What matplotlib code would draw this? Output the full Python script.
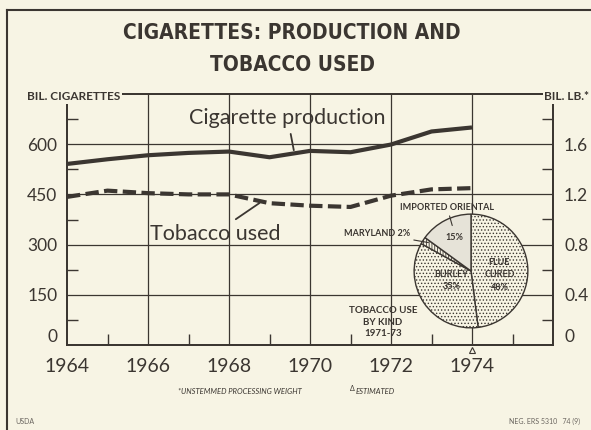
import numpy as np
import matplotlib
matplotlib.use('Agg')
import matplotlib.pyplot as plt
from matplotlib import transforms

# data
years = [1964, 1965, 1966, 1967, 1968, 1969, 1970, 1971, 1972, 1973, 1974]
cig_prod = [541, 555, 567, 574, 578, 561, 580, 576, 599, 638, 650]      # bil. cigarettes
tob_used = [1.18, 1.23, 1.21, 1.20, 1.20, 1.13, 1.11, 1.10, 1.19, 1.24, 1.25]  # bil. lb
est_years = [1974]

kinds = ['FLUE\nCURED', 'BURLEY', 'MARYLAND', 'IMPORTED ORIENTAL']
shares = [48, 35, 2, 15]

left_ticks = [0, 150, 300, 450, 600]
right_ticks = [0, 0.4, 0.8, 1.2, 1.6]
year_ticks = [1964, 1966, 1968, 1970, 1972, 1974]

bg = '#f7f4e4'
ink = '#3b3631'
plt.rcParams['font.family'] = ['Lato', 'DejaVu Sans']
plt.rcParams['hatch.color'] = ink
plt.rcParams['hatch.linewidth'] = 0.6

fig = plt.figure(figsize=(5.91, 4.30), dpi=100)
fig.patch.set_facecolor(bg)

# frame lines of the old slide
fig.add_artist(plt.Line2D([7/591, 7/591], [0, 1 - 10/430], color=ink, lw=1.5))
fig.add_artist(plt.Line2D([7/591, 1], [1 - 10/430, 1 - 10/430], color=ink, lw=1.5))

ax = fig.add_axes([67/591, 85/430, 486/591, 251/430])
ax.set_facecolor('none')
ax.set_xlim(1964, 1976)
ax.set_ylim(0, 750)
ax2 = ax.twinx()
ax2.set_ylim(0, 2.0)

for a in (ax, ax2):
    for s in a.spines.values():
        s.set_color(ink)
        s.set_linewidth(1.3)

# grid
for y in left_ticks[1:]:
    ax.axhline(y, color=ink, lw=0.9, zorder=1)
for x in year_ticks[1:]:
    ax.axvline(x, color=ink, lw=0.9, zorder=1)

ax.set_xticks(year_ticks)
ax.set_xticklabels([str(y) for y in year_ticks])
ax.set_xticks(np.arange(1965, 1976, 2), minor=True)
ax.set_yticks(left_ticks)
ax.set_yticks(np.arange(75, 750, 150), minor=True)
ax2.set_yticks(right_ticks)
ax2.set_yticklabels(['0', '0.4', '0.8', '1.2', '1.6'])
ax2.set_yticks(np.arange(0.2, 2.0, 0.4), minor=True)

ax.tick_params(axis='both', which='major', length=0, colors=ink, labelsize=12.5)
ax.tick_params(axis='x', which='major', pad=9, labelsize=14)
ax.tick_params(axis='y', which='major', pad=7)
ax.tick_params(which='minor', direction='in', length=8, width=1, color=ink)
ax2.tick_params(axis='y', which='major', length=0, colors=ink, labelsize=12.5, pad=8)
ax2.tick_params(axis='y', which='minor', direction='in', length=8, width=1, color=ink)
# the zero labels sit just above the base line
ax.get_yticklabels()[0].set_va('bottom')
ax2.get_yticklabels()[0].set_va('bottom')

ax.plot(years, cig_prod, color=ink, lw=3, zorder=3, solid_capstyle='butt')
ax2.plot(years, tob_used, color=ink, lw=3, ls=(0, (3.2, 1.3)), zorder=3)

# estimated marker under the axis
tr = transforms.offset_copy(ax.transData, fig=fig, y=-5, units='dots')
ax.plot(est_years, [0] * len(est_years), marker='^', ms=5, mfc=bg, mec=ink,
        mew=0.8, ls='none', transform=tr, clip_on=False, zorder=5)

# series labels
ax.annotate('Cigarette production', xy=(1969.6, 582), xytext=(1969.45, 677),
            ha='center', va='center', fontsize=15.5, color=ink,
            arrowprops=dict(arrowstyle='-', color=ink, lw=1.3, shrinkA=2, shrinkB=0))
ax.annotate('Tobacco used', xy=(1968.75, 424), xytext=(1967.65, 333),
            ha='center', va='center', fontsize=15.5, color=ink,
            arrowprops=dict(arrowstyle='-', color=ink, lw=1.3, shrinkA=2, shrinkB=0))

# axis unit labels
fig.text(27/591, 1 - 97/430, 'BIL. CIGARETTES', fontsize=8.5, fontweight='bold',
         color=ink, ha='left', va='center',
         bbox=dict(facecolor=bg, edgecolor='none', pad=1))
fig.text(589/591, 1 - 97/430, 'BIL. LB.*', fontsize=8.5, fontweight='bold',
         color=ink, ha='right', va='center',
         bbox=dict(facecolor=bg, edgecolor='none', pad=1))

# title
fig.text(292/591, 1 - 49/430, 'CIGARETTES: PRODUCTION AND\nTOBACCO USED',
         family='DejaVu Sans', fontstretch='condensed', fontweight='bold',
         fontsize=15, color=ink, ha='center', va='center', linespacing=1.75)

# pie inset
r_px = 58
pax = fig.add_axes([(471 - r_px)/591, (430 - 271 - r_px)/430, 2*r_px/591, 2*r_px/430])
wedges, _ = pax.pie(shares, startangle=90, counterclock=False,
                    colors=[bg, bg, bg, '#e6e3d8'],
                    wedgeprops=dict(edgecolor=ink, linewidth=1.0))
for w, h in zip(wedges, ['.....', '.....', '||||||', None]):
    if h:
        w.set_hatch(h)
pax.set_xlim(-1.02, 1.02)
pax.set_ylim(-1.02, 1.02)
pax.axis('off')

small = dict(fontsize=6.5, color=ink, fontweight='bold', ha='center', va='center')
pax.text(0.5, -0.07, 'FLUE\nCURED\n48%', linespacing=1.5, **small)
pax.text(-0.35, -0.17, 'BURLEY\n35%', linespacing=1.5, **small)
pax.text(-0.3, 0.59, '15%', **small)
pax.annotate('IMPORTED ORIENTAL', xy=(-0.33, 0.8), xytext=(-0.42, 1.12),
             arrowprops=dict(arrowstyle='-', color=ink, lw=0.8, shrinkA=1, shrinkB=0),
             annotation_clip=False, **small)
pax.annotate('MARYLAND 2%', xy=(-0.75, 0.5), xytext=(-1.66, 0.66),
             arrowprops=dict(arrowstyle='-', color=ink, lw=0.8, shrinkA=1, shrinkB=0),
             annotation_clip=False, **small)
pax.text(-1.55, -0.9, 'TOBACCO USE\nBY KIND\n1971-73', linespacing=1.4,
         clip_on=False, **dict(small, fontsize=7))

# footnotes
fig.text(178/591, 1 - 392/430, '*UNSTEMMED PROCESSING WEIGHT', fontsize=5.5,
         style='italic', color=ink, ha='left', va='center')
fig.text(350/591, 1 - 392/430, '\u0394', fontsize=5, color=ink, ha='left', va='bottom')
fig.text(356/591, 1 - 392/430, 'ESTIMATED', fontsize=5.5,
         style='italic', color=ink, ha='left', va='center')
fig.text(15/591, 1 - 421/430, 'USDA', fontsize=5, color='#6a655f', ha='left', va='center')
fig.text(580/591, 1 - 421/430, 'NEG. ERS 5310   74 (9)', fontsize=5, color='#6a655f',
         ha='right', va='center')

fig.savefig('out.png', dpi=100, facecolor=bg)
